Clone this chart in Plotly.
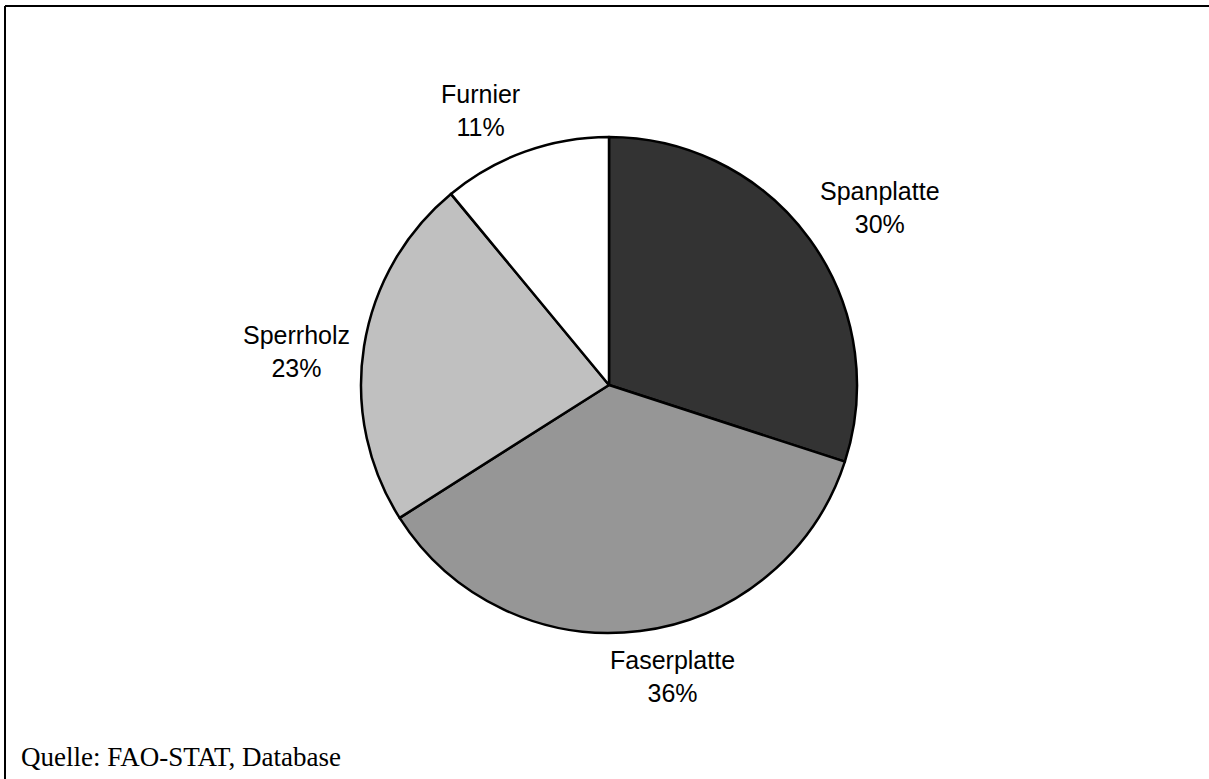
import math
import plotly.graph_objects as go

# Anteile der Holzwerkstoffe (Prozent)
categories = ["Spanplatte", "Faserplatte", "Sperrholz", "Furnier"]
shares = [30, 36, 23, 11]
colors = ["#333333", "#969696", "#c0c0c0", "#ffffff"]
source_note = "Quelle: FAO-STAT, Database"

W, H = 1209, 779
cx, cy, R = 609, 385, 248  # pie centre and radius in pixels
label_dist = 302           # distance of label centres from the pie centre
# small per-label adjustments (pixels) so labels clear the pie edge
label_nudge = {
    "Spanplatte": (27, 0),
    "Faserplatte": (26, -8),
    "Sperrholz": (-14, 14),
    "Furnier": (-26, 10),
}

fig = go.Figure(
    go.Pie(
        labels=categories,
        values=shares,
        sort=False,
        direction="clockwise",
        rotation=0,
        marker=dict(colors=colors, line=dict(color="black", width=2.5)),
        textinfo="none",
        hoverinfo="label+percent",
        showlegend=False,
        domain=dict(x=[(cx - R) / W, (cx + R) / W], y=[(H - cy - R) / H, (H - cy + R) / H]),
    )
)

# outside labels, placed from each slice's mid angle
annotations = []
total = sum(shares)
cum = 0
for name, v in zip(categories, shares):
    mid = (cum + v / 2) / total * 2 * math.pi
    cum += v
    dx, dy = label_nudge[name]
    px = cx + label_dist * math.sin(mid) + dx
    py = cy - label_dist * math.cos(mid) + dy
    annotations.append(dict(
        x=px / W, y=1 - py / H, xref="paper", yref="paper",
        text=f"{name}<br>{round(v / total * 100)}%",
        showarrow=False, xanchor="center", yanchor="middle", align="center",
        font=dict(family="Liberation Sans, Arial", size=25, color="black"),
    ))

annotations.append(dict(
    x=19 / W, y=1 - 757 / H, xref="paper", yref="paper",
    text=source_note, showarrow=False, xanchor="left", yanchor="middle",
    font=dict(family="Liberation Serif, Times New Roman", size=27, color="black"),
))

# frame lines (top and left)
shapes = [
    dict(type="line", xref="paper", yref="paper", x0=5 / W, x1=1.02, y0=1 - 6 / H, y1=1 - 6 / H,
         line=dict(color="black", width=2)),
    dict(type="line", xref="paper", yref="paper", x0=5 / W, x1=5 / W, y0=-0.02, y1=1 - 6 / H,
         line=dict(color="black", width=2)),
]

fig.update_layout(
    width=W, height=H,
    margin=dict(l=0, r=0, t=0, b=0),
    paper_bgcolor="white", plot_bgcolor="white",
    annotations=annotations, shapes=shapes,
)

fig.write_html("out.html")
